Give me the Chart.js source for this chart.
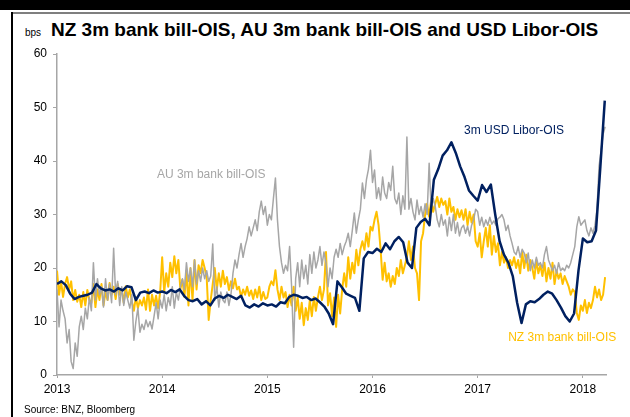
<!DOCTYPE html>
<html>
<head>
<meta charset="utf-8">
<script src="https://cdn.jsdelivr.net/npm/chart.js@4/dist/chart.umd.min.js"></script>
<style>
  html, body { margin: 0; padding: 0; background: #fff; }
  #wrap { position: relative; width: 630px; height: 417px; overflow: hidden; font-family: "Liberation Sans", Arial, sans-serif; }
  #topbar { position: absolute; left: 0; top: 0; width: 630px; height: 10px; background: #000; }
  #rule { position: absolute; left: 11px; top: 12px; width: 619px; height: 2px; background: #7f7f7f; }
  #side { position: absolute; left: 11px; top: 12px; width: 2px; height: 405px; background: #000; }
  #title { position: absolute; left: 51px; top: 19px; font-size: 19px; font-weight: bold; color: #000; white-space: nowrap; }
  #unit { position: absolute; left: 25px; top: 27px; font-size: 10px; color: #000; }
  #source { position: absolute; left: 24px; top: 404px; font-size: 10px; color: #000; white-space: nowrap; }
  canvas { position: absolute; left: 0; top: 0; }
</style>
</head>
<body>
<div id="wrap">
  <div id="topbar"></div>
  <div id="rule"></div>
  <div id="side"></div>
  <div id="unit">bps</div>
  <div id="title">NZ 3m bank bill-OIS, AU 3m bank bill-OIS and USD Libor-OIS</div>
  <canvas id="chart" width="630" height="417"></canvas>
  <div id="source">Source: BNZ, Bloomberg</div>
</div>
<script>
  const startYear = 2013;

  const yearTicks = [2013, 2014, 2015, 2016, 2017, 2018];
  const bpsTicks = [0, 10, 20, 30, 40, 50, 60];

  // 3m USD Libor-OIS, bps (half-monthly)
  const usdLiborOis = [
    17.0, 17.5, 16.8, 15.2, 14.2, 14.6, 14.8, 15.0, 15.4, 17.0, 16.2, 15.8,
    16.0, 15.6, 16.2, 15.8, 16.6, 16.4, 14.0, 15.4, 15.6, 15.3, 15.8, 15.4,
    15.6, 15.3, 15.9, 15.5, 16.0, 14.8, 14.0, 13.8, 14.2, 13.2, 13.8, 13.0,
    14.3, 14.8, 14.4, 15.0, 14.6, 14.2, 14.8, 13.0, 12.6, 13.2, 12.8, 13.4,
    13.0, 13.2, 12.8, 13.6, 13.4, 14.6, 15.0, 14.8, 14.4, 14.6, 14.0, 14.3,
    13.6, 12.8, 11.5, 9.5, 17.5, 16.4, 15.2, 14.8, 14.4, 12.0, 21.8, 23.0,
    22.8, 23.6, 23.0, 24.6, 23.5, 25.0, 25.8, 24.8, 21.0, 20.0, 27.5, 28.6,
    29.2, 28.0, 36.5, 38.5, 41.0, 42.0, 43.5, 41.5, 39.0, 37.0, 34.5, 33.5,
    32.6, 35.5, 34.2, 35.6, 30.0, 25.0, 22.5, 21.0, 18.5, 13.5, 9.7, 13.2,
    13.8, 13.6, 14.2, 15.0, 15.6, 15.2, 14.0, 12.6, 11.0, 10.0, 11.5, 19.5,
    25.5, 24.8, 25.0, 27.0, 39.0, 51.3
  ];

  // AU 3m bank bill-OIS, bps (weekly)
  const auBillOis = [
    // 2013
    16.0, 9.0, 14.0, 12.0, 10.5, 6.0, 8.5, 2.5, 1.2, 6.0, 3.5, 9.0, 11.0,
    8.5, 12.5, 10.5, 14.5, 12.0, 21.0, 14.0, 18.0, 15.0, 16.5, 12.7, 18.0, 14.0,
    17.0, 13.5, 23.7, 15.0, 17.5, 13.0, 16.5, 13.0, 15.5, 14.0, 12.5, 15.0, 6.5,
    10.0, 12.5, 8.0, 9.5, 8.5, 10.3, 9.0, 10.0, 8.6, 11.0, 13.5, 10.5, 14.0,
    // 2014
    12.5, 15.0, 12.0, 14.5, 13.0, 16.5, 12.5, 15.5, 14.0, 16.5, 18.0, 16.0, 21.0,
    17.5, 20.0, 16.5, 21.5, 17.0, 19.5, 17.5, 20.0, 18.0, 19.5, 17.5, 18.5, 24.5,
    14.0, 16.5, 12.7, 15.5, 14.0, 13.5, 15.5, 13.0, 15.0, 19.0, 21.5, 20.0, 22.5,
    24.6, 22.0, 24.0, 25.5, 27.7, 26.0, 27.5, 29.0, 27.0, 30.5, 32.5, 30.0, 31.5,
    // 2015
    28.0, 30.0, 29.0, 33.0, 36.8, 29.0, 24.0, 21.0, 19.0, 20.5, 19.5, 24.0, 16.5,
    5.2, 18.0, 21.0, 16.5, 21.5, 18.0, 20.5, 17.0, 22.5, 19.0, 23.0, 20.0, 21.5,
    24.0, 20.5, 23.0, 21.0, 16.5, 20.0, 18.0, 22.0, 23.5, 22.0, 24.6, 22.5, 24.0,
    25.0, 26.5, 24.0, 27.0, 30.3, 26.5, 29.0, 31.0, 35.9, 33.0, 36.5, 38.5, 42.0,
    // 2016
    36.0, 38.3, 33.0, 35.0, 32.7, 37.0, 34.0, 33.0, 36.0, 34.5, 39.0, 33.0, 32.0,
    34.0, 30.0, 33.5, 31.0, 44.5, 31.0, 33.0, 30.5, 29.0, 32.7, 30.0, 31.5, 29.5,
    32.0, 30.0, 39.6, 31.0, 33.0, 31.5, 29.0, 27.7, 30.0, 28.0, 29.0, 26.0, 29.5,
    27.0, 30.0, 26.5, 28.5, 26.0, 27.5, 28.0, 26.5, 27.8, 26.0, 28.0, 29.0, 31.0,
    // 2017
    30.5, 28.0, 29.5, 27.7, 29.0, 28.0, 29.5, 28.2, 28.8, 28.0, 29.2, 29.5, 30.0,
    29.0, 27.0, 28.0, 26.0, 24.6, 23.0, 22.5, 24.0, 22.0, 23.5, 22.8, 21.0, 22.8,
    19.5, 21.5, 20.0, 22.0, 20.5, 21.0, 20.0, 22.5, 24.0, 21.5, 20.5, 19.5, 20.5,
    19.0, 21.0, 19.5, 20.0, 19.5, 20.5, 20.0, 21.0, 22.5, 24.0, 27.7, 29.6, 28.0,
    // 2018
    28.5, 29.0, 27.0, 26.0, 27.5, 26.5, 28.0, 31.0, 39.0, 42.0, 45.0, 46.4
  ];

  // NZ 3m bank bill-OIS, bps (weekly)
  const nzBillOis = [
    // 2013
    19.5, 15.0, 17.5, 14.6, 17.0, 18.3, 16.0, 17.5, 14.0, 15.9, 13.7, 15.0, 12.7,
    15.5, 13.0, 15.9, 14.0, 13.5, 17.0, 12.7, 16.0, 14.0, 17.0, 13.0, 15.5, 14.0,
    17.2, 15.0, 16.5, 14.2, 17.0, 15.0, 16.0, 13.5, 16.6, 14.5, 16.0, 13.8, 12.0,
    14.6, 12.5, 14.0, 13.0, 14.5, 12.2, 16.0, 12.0, 15.0, 13.0, 14.8, 12.5, 15.5,
    // 2014
    22.0, 15.5, 19.0, 16.5, 21.0, 18.3, 22.2, 19.0, 21.5, 16.0, 17.8, 14.6, 19.5,
    13.0, 20.0, 14.0, 21.5, 16.0, 20.5, 19.0, 21.5, 20.0, 18.3, 10.3, 14.0, 17.0,
    20.0, 15.9, 19.0, 16.5, 19.5, 17.0, 18.3, 15.9, 17.5, 16.2, 18.0, 16.0, 16.5,
    14.6, 16.0, 15.0, 16.5, 14.8, 15.8, 14.2, 16.0, 14.5, 16.5, 14.0, 15.5, 14.2,
    // 2015
    14.5, 16.5, 17.5, 16.8, 19.6, 16.0, 14.0, 16.5, 14.5, 15.5, 12.7, 15.0, 13.0,
    16.5, 12.0, 14.5, 10.5, 13.5, 9.3, 12.5, 10.3, 14.0, 11.0, 14.6, 12.0, 14.5,
    16.5, 14.0, 16.0, 23.0, 13.0, 15.3, 11.0, 14.5, 9.0, 15.0, 11.5, 16.0, 19.0,
    16.5, 22.0, 18.0, 21.0, 19.0, 23.4, 20.5, 23.5, 25.0, 23.4, 26.5, 24.0, 27.7,
    // 2016
    27.0, 29.0, 30.5, 28.0, 23.4, 17.8, 21.0, 17.5, 19.0, 16.5, 18.5, 17.0, 20.0,
    18.5, 21.5, 19.0, 20.5, 22.0, 25.0, 21.5, 24.0, 20.0, 19.0, 14.0, 25.0, 26.5,
    30.0, 32.0, 29.6, 32.7, 30.5, 32.0, 33.3, 31.4, 33.0, 31.8, 32.5, 30.0, 33.0,
    30.5, 31.4, 29.0, 31.0, 29.5, 30.8, 29.0, 31.0, 28.0, 30.5, 28.5, 30.0, 25.0,
    // 2017
    24.0, 26.5, 22.0, 25.0, 27.5, 24.0, 28.0, 22.5, 26.0, 23.0, 24.6, 20.5, 23.0,
    21.0, 22.0, 20.0, 21.5, 20.5, 22.0, 20.0, 21.5, 19.0, 23.0, 20.0, 22.5, 19.5,
    21.5, 20.0, 18.0, 21.5, 19.0, 20.5, 18.5, 21.0, 17.5, 20.0, 18.0, 21.0, 17.0,
    19.5, 18.0, 19.0, 17.0, 18.5, 17.5, 16.5, 15.0, 16.0, 15.5, 11.6, 10.3, 13.0,
    // 2018
    12.0, 14.0, 11.6, 13.5, 12.5, 14.0, 16.5, 14.5, 16.0, 14.0, 15.0, 18.3
  ];

  const toPoints = (values, perYear) =>
    values.map((v, i) => ({ x: startYear + i / perYear, y: v }));

  // in-chart series labels, placed in data units
  const seriesLabels = [
    { text: "AU 3m bank bill-OIS", x: 2013.95, y: 37.4, color: "#a6a6a6" },
    { text: "3m USD Libor-OIS", x: 2016.87, y: 45.6, color: "#002060" },
    { text: "NZ 3m bank bill-OIS", x: 2017.29, y: 7.0, color: "#ffc000" },
  ];

  const seriesLabelPlugin = {
    id: "seriesLabels",
    afterDatasetsDraw(chart) {
      const { ctx, scales } = chart;
      ctx.save();
      ctx.font = '12px "Liberation Sans", Arial, sans-serif';
      ctx.textAlign = "left";
      ctx.textBaseline = "middle";
      seriesLabels.forEach((l) => {
        ctx.fillStyle = l.color;
        ctx.fillText(l.text, scales.x.getPixelForValue(l.x), scales.y.getPixelForValue(l.y));
      });
      ctx.restore();
    },
  };

  const axisColor = "#a6a6a6";
  const tickFont = { family: '"Liberation Sans", Arial, sans-serif', size: 12 };

  new Chart(document.getElementById("chart"), {
    type: "line",
    data: {
      datasets: [
        {
          label: "3m USD Libor-OIS",
          data: toPoints(usdLiborOis, 24),
          borderColor: "#002060",
          borderWidth: 2.5,
          order: 0,
        },
        {
          label: "AU 3m bank bill-OIS",
          data: toPoints(auBillOis, 52),
          borderColor: "#a6a6a6",
          borderWidth: 1.5,
          order: 1,
        },
        {
          label: "NZ 3m bank bill-OIS",
          data: toPoints(nzBillOis, 52),
          borderColor: "#ffc000",
          borderWidth: 2,
          order: 2,
        },
      ],
    },
    options: {
      responsive: false,
      animation: false,
      events: [],
      elements: {
        point: { radius: 0 },
        line: { tension: 0, fill: false, borderJoinStyle: "round" },
      },
      layout: { padding: { left: 0, right: 24, top: 54, bottom: 20 } },
      plugins: {
        legend: { display: false },
        tooltip: { enabled: false },
      },
      scales: {
        x: {
          type: "linear",
          min: 2013,
          max: 2018.22,
          afterBuildTicks: (s) => {
            s.ticks = yearTicks.map((v) => ({ value: v }));
          },
          afterFit: (s) => {
            s.height = 22;
          },
          ticks: {
            color: "#000",
            font: tickFont,
            padding: 4,
            maxRotation: 0,
            callback: (v) => String(v),
          },
          grid: { drawOnChartArea: false, tickLength: 3, color: axisColor },
          border: { color: axisColor, width: 1.5 },
        },
        y: {
          min: 0,
          max: 60,
          afterBuildTicks: (s) => {
            s.ticks = bpsTicks.map((v) => ({ value: v }));
          },
          afterFit: (s) => {
            s.width = 57;
          },
          ticks: { color: "#000", font: tickFont, padding: 6 },
          grid: { drawOnChartArea: false, tickLength: 4, color: axisColor },
          border: { color: axisColor, width: 1.5 },
        },
      },
    },
    plugins: [seriesLabelPlugin],
  });
</script>
</body>
</html>
